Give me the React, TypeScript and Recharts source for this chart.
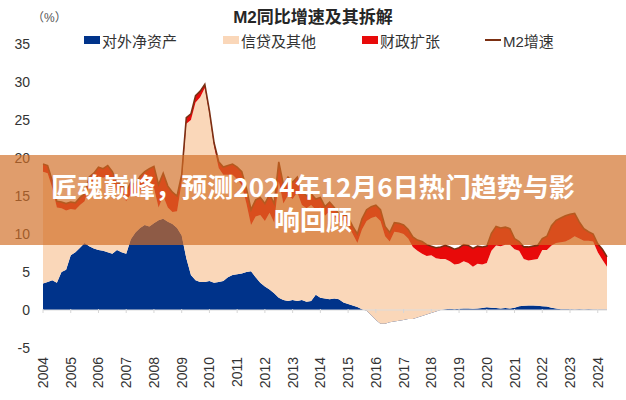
import React from "react";
import {
  ComposedChart,
  Area,
  Line,
  XAxis,
  YAxis,
  ReferenceLine,
} from "recharts";

// bimonthly points (Jan, Mar, May, Jul, Sep, Nov), 2004-01 .. 2024-05
const startYear = 2004;

const m2Growth = [
  19.2, 19.0, 17.0, 14.3, 14.2, 14.0, // 2004
  14.2, 14.1, 14.8, 15.3, 17.5, 18.0, // 2005
  18.8, 18.6, 19.0, 18.2, 16.8, 16.6, // 2006
  15.6, 16.8, 16.5, 17.6, 18.2, 18.6, // 2007
  18.9, 16.5, 18.0, 16.3, 15.5, 15.0, // 2008
  17.8, 25.3, 25.8, 28.2, 28.8, 29.7, // 2009
  26.2, 22.0, 19.5, 18.8, 19.0, 19.2, // 2010
  18.8, 18.2, 16.0, 13.2, 14.5, 14.8, // 2011
  14.0, 15.2, 14.0, 19.5, 16.5, 17.5, // 2012
  16.8, 17.5, 15.6, 15.0, 15.3, 14.6, // 2013
  14.8, 13.6, 14.2, 13.5, 12.6, 12.8, // 2014
  12.2, 11.0, 10.0, 12.0, 13.2, 13.6, // 2015
  13.8, 13.2, 11.0, 10.2, 11.5, 11.4, // 2016
  11.2, 10.6, 9.6, 9.2, 9.0, 8.6, // 2017
  8.4, 8.2, 8.3, 8.5, 8.3, 8.0, // 2018
  8.2, 8.6, 8.5, 8.1, 8.4, 8.3, // 2019
  8.4, 10.1, 11.0, 10.8, 10.9, 10.7, // 2020
  9.4, 9.0, 8.3, 8.3, 8.4, 8.5, // 2021
  9.4, 9.7, 11.1, 11.8, 12.1, 12.4, // 2022
  12.6, 12.7, 11.6, 10.7, 10.3, 10.0, // 2023
  8.7, 8.0, 7.0, // 2024
];

const foreignAssets = [
  3.5, 3.7, 3.9, 3.6, 5.0, 5.3,
  7.2, 7.6, 8.2, 8.8, 8.4, 8.1,
  7.9, 7.8, 7.6, 7.4, 7.9, 7.6,
  7.4, 9.3, 10.2, 10.8, 11.2, 11.0,
  11.4, 11.8, 12.0, 11.6, 11.3, 10.8,
  9.8, 6.8, 4.6, 3.9, 3.7, 3.7,
  3.8, 3.6, 3.7, 3.8, 4.3, 4.6,
  4.7, 4.8, 5.0, 5.1, 4.3, 3.6,
  3.1, 2.7, 2.2, 1.6, 1.3, 1.2,
  1.3, 1.2, 1.3, 1.1, 1.2, 2.0,
  1.6, 1.5, 1.4, 1.5, 1.4, 1.0,
  0.8, 0.6, 0.4, 0.1, -0.1, -0.7,
  -1.3, -1.8, -1.8, -1.6, -1.5, -1.4,
  -1.3, -1.2, -1.2, -1.0, -0.8, -0.6,
  -0.4, -0.2, 0.0, 0.1, 0.15, 0.1,
  0.15, 0.2, 0.2, 0.15, 0.2, 0.25,
  0.35, 0.3, 0.25, 0.2, 0.25, 0.2,
  0.3, 0.5, 0.55, 0.6, 0.6, 0.55,
  0.5, 0.45, 0.3, 0.2, 0.1, 0.1,
  0.1, 0.05, 0.1, 0.05, 0.1, 0.05,
  0.05, 0.05, 0.05,
];

const fiscal = [
  1.0, 1.0, 0.9, 0.8, 0.8, 0.9,
  0.9, 0.9, 1.0, 1.0, 1.1, 1.1,
  1.2, 1.2, 1.3, 1.2, 1.2, 1.3,
  1.3, 1.5, 1.6, 1.8, 2.2, 2.6,
  2.8, 3.0, 3.0, 2.8, 2.6, 2.0,
  1.0, 0.8, 0.8, 0.9, 0.8, 0.5,
  0.4, 0.5, 0.8, 1.0, 1.2, 1.4,
  1.6, 1.8, 2.0, 2.0, 2.2, 2.3,
  2.3, 2.4, 2.5, 2.6, 2.5, 2.4,
  2.2, 2.0, 1.8, 1.6, 1.5, 1.4,
  1.3, 1.2, 1.2, 1.1, 1.1, 1.0,
  1.0, 1.0, 1.2, 1.4, 1.5, 1.5,
  1.5, 1.5, 1.3, 1.2, 1.2, 1.2,
  1.2, 1.2, 1.3, 1.4, 1.6, 1.5,
  1.2, 1.4, 1.6, 1.8, 1.9, 2.0,
  2.1, 2.2, 2.3, 2.4, 2.3, 2.3,
  2.2, 2.3, 2.5, 2.4, 2.3, 2.1,
  1.4, 1.2, 1.6, 1.8, 1.8, 1.8,
  1.5, 1.8, 2.6, 3.0, 3.2, 3.4,
  3.3, 3.0, 2.2, 1.6, 1.2, 1.0,
  1.1, 1.4, 1.3,
];

const yearTicks = [
  2004, 2005, 2006, 2007, 2008, 2009, 2010, 2011, 2012, 2013, 2014,
  2015, 2016, 2017, 2018, 2019, 2020, 2021, 2022, 2023, 2024,
];
const valueTicks = [-5, 0, 5, 10, 15, 20, 25, 30, 35];

const legendItems = [
  { name: "对外净资产", color: "#00338a", kind: "box", x: 84 },
  { name: "信贷及其他", color: "#fad7b9", kind: "box", x: 223 },
  { name: "财政扩张", color: "#e80a0a", kind: "box", x: 362 },
  { name: "M2增速", color: "#7b2f12", kind: "line", x: 485 },
];

// credit is the residual of M2 after the other two parts
const data = m2Growth.map((m2, i) => ({
  t: startYear + (i * 2) / 12,
  foreign: foreignAssets[i],
  credit: +(m2 - foreignAssets[i] - fiscal[i]).toFixed(2),
  fiscal: fiscal[i],
  m2,
}));

const font = '"Liberation Sans", "Noto Sans CJK SC", sans-serif';

const YearTick = (props: any) => {
  const { x, y, payload } = props;
  return (
    <g>
      {/* small tick marks on the zero line */}
      <line x1={x} x2={x} y1={y - 48} y2={y - 44} stroke="#d6d6d6" />
      <text
        x={x}
        y={y}
        textAnchor="end"
        dominantBaseline="central"
        transform={`rotate(-90, ${x}, ${y})`}
        fontSize={14}
        fill="#333"
        fontFamily={font}
      >
        {payload.value}
      </text>
    </g>
  );
};

export default function App() {
  return (
    <div
      style={{
        position: "absolute",
        left: 0,
        top: 0,
        width: 626,
        height: 400,
        background: "#fff",
        fontFamily: font,
        overflow: "hidden",
      }}
    >
      <div
        style={{
          position: "absolute",
          top: 6,
          left: 0,
          width: 626,
          textAlign: "center",
          fontSize: 17,
          fontWeight: 700,
          color: "#262626",
          lineHeight: "24px",
        }}
      >
        M2同比增速及其拆解
      </div>
      <div
        style={{
          position: "absolute",
          top: 10,
          left: 32,
          fontSize: 12,
          color: "#555",
          lineHeight: "16px",
        }}
      >
        （%）
      </div>
      {legendItems.map((it) => (
        <div
          key={it.name}
          style={{
            position: "absolute",
            top: 30,
            left: it.x,
            height: 20,
            display: "flex",
            alignItems: "center",
            fontSize: 15,
            color: "#333",
          }}
        >
          <span
            style={{
              display: "inline-block",
              width: 16,
              height: it.kind === "box" ? 8 : 2,
              background: it.color,
              marginRight: 2,
            }}
          />
          {it.name}
        </div>
      ))}

      <ComposedChart
        width={626}
        height={400}
        data={data}
        margin={{ top: 44, right: 19, left: 0, bottom: 0 }}
      >
        <XAxis
          dataKey="t"
          type="number"
          domain={[2004, 2024 + 4 / 12]}
          ticks={yearTicks}
          interval={0}
          height={52}
          axisLine={false}
          tickLine={false}
          tickSize={0}
          tickMargin={9}
          tick={<YearTick />}
        />
        <YAxis
          domain={[-5, 35]}
          ticks={valueTicks}
          width={43}
          axisLine={false}
          tickLine={false}
          tickMargin={7}
          tick={{ fontSize: 14, fill: "#333", fontFamily: font }}
        />
        <Area
          type="linear"
          dataKey="foreign"
          stackId="1"
          stroke="none"
          fill="#00338a"
          fillOpacity={1}
          isAnimationActive={false}
        />
        <Area
          type="linear"
          dataKey="credit"
          stackId="1"
          stroke="none"
          fill="#fad7b9"
          fillOpacity={1}
          isAnimationActive={false}
        />
        <Area
          type="linear"
          dataKey="fiscal"
          stackId="1"
          stroke="none"
          fill="#e80a0a"
          fillOpacity={1}
          isAnimationActive={false}
        />
        <ReferenceLine y={0} stroke="#dcdcdc" strokeWidth={1} />
        <Line
          type="linear"
          dataKey="m2"
          stroke="#7b2f12"
          strokeWidth={1.6}
          dot={false}
          isAnimationActive={false}
        />
      </ComposedChart>

      <div
        style={{
          position: "absolute",
          top: 155,
          left: 0,
          width: 626,
          height: 90,
          background: "rgba(210, 110, 38, 0.68)",
          boxSizing: "border-box",
          paddingTop: 14,
        }}
      >
        <div
          style={{
            width: 532,
            margin: "0 auto",
            color: "#fff",
            fontFamily: '"Noto Sans CJK SC", sans-serif',
            fontWeight: 700,
            fontSize: 26,
            lineHeight: "33px",
            textAlign: "center",
          }}
        >
          匠魂巅峰，预测2024年12月6日热门趋势与影响回顾
        </div>
      </div>
    </div>
  );
}
